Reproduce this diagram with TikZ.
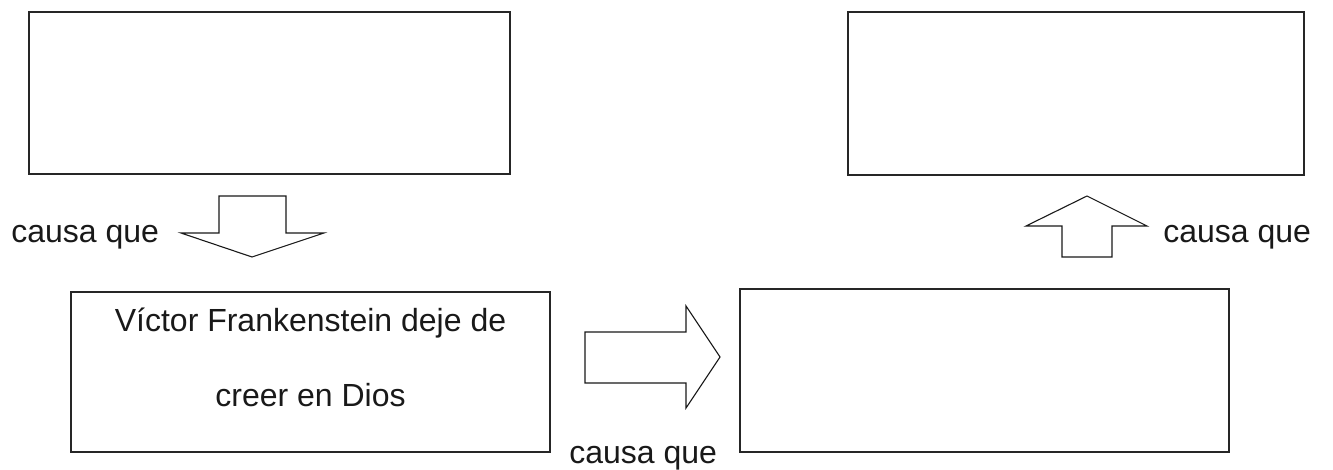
\documentclass[tikz,border=0pt]{standalone}
\usepackage{fontspec}
\setmainfont{Liberation Sans}
\begin{document}
\begin{tikzpicture}[x=0.5pt,y=-0.5pt,
  box/.style={draw=black!85,line width=0.65pt},
  blockarrow/.style={draw=black!90,line width=0.55pt,fill=white,line join=miter},
  lbl/.style={font=\fontsize{16}{19}\selectfont,text=black!90,inner sep=0pt,anchor=base west}]
\useasboundingbox (0,0) rectangle (1333,470);
% boxes
\draw[box] (29,12) rectangle (510,174) coordinate (b1);
\draw[box] (848,12) rectangle (1304,175);
\draw[box] (71,292) rectangle (550,452);
\draw[box] (740,289) rectangle (1229,452);
% text in box 3
\node[font=\fontsize{16}{16}\selectfont,text=black!90,inner sep=0pt,anchor=base] (t1) at (310.5,331.7) {Víctor Frankenstein deje de};
\node[font=\fontsize{16}{16}\selectfont,text=black!90,inner sep=0pt,anchor=base] (t2) at (310.5,406.7) {creer en Dios};
% down arrow
\draw[blockarrow] (219,196) -- (286,196) -- (286,233) -- (324,233) -- (252,257) -- (181,233) -- (219,233) -- cycle;
% up arrow
\draw[blockarrow] (1062,257) -- (1112,257) -- (1112,226) -- (1147,226) -- (1087,196) -- (1026,226) -- (1062,226) -- cycle;
% right arrow
\draw[blockarrow] (585,332) -- (686,332) -- (686,306) -- (720,357) -- (686,408) -- (686,383) -- (585,383) -- cycle;
% labels
\node[lbl] (l1) at (11,243) {causa que};
\node[lbl] (l2) at (1163,243) {causa que};
\node[lbl] (l3) at (569,463) {causa que};
\end{tikzpicture}
\end{document}
